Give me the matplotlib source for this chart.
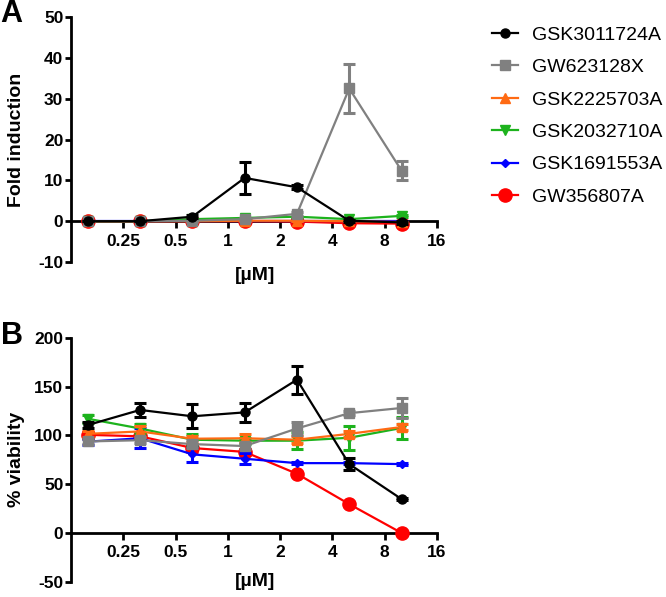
import matplotlib
matplotlib.use('Agg')
import matplotlib.pyplot as plt
from matplotlib.lines import Line2D
import numpy as np

plt.rcParams['font.family'] = ['Liberation Sans', 'DejaVu Sans']
plt.rcParams['axes.unicode_minus'] = False

conc = [0.156, 0.3125, 0.625, 1.25, 2.5, 5, 10]

names = ['GSK3011724A', 'GW623128X', 'GSK2225703A', 'GSK2032710A', 'GSK1691553A', 'GW356807A']
colors = ['#000000', '#808080', '#FF6A13', '#1DB31D', '#0000FF', '#FF0000']
markers = ['o', 's', '^', 'v', 'D', 'o']
msizes = [6.5, 6.5, 7, 6.5, 4.5, 9.5]

# panel A: fold induction
fold = [
    [0, 0, 1.1, 10.6, 8.3, 0.1, -0.3],
    [0, 0, 0.1, 0.5, 1.8, 32.5, 12.4],
    [0, 0, 0, 0.1, 0.1, 0, -0.2],
    [0, 0, 0.5, 0.8, 1.1, 0.5, 1.3],
    [0, 0, 0, 0, 0, 0, 0],
    [0, 0, 0, 0, -0.1, -0.5, -0.6],
]
fold_err = [
    [0, 0, 0.3, 3.9, 0.5, 0.3, 0.3],
    [0, 0, 0.2, 0.3, 0.5, 6.0, 2.3],
    [0, 0, 0, 0, 0, 0, 0],
    [0, 0, 0, 0, 0, 0, 0.3],
    [0, 0, 0, 0, 0, 0, 0],
    [0, 0, 0, 0, 0, 0, 0],
]

# panel B: % viability
viab = [
    [110.5, 126, 119.5, 123.5, 157, 70.5, 34.7],
    [93.7, 95, 91, 89, 107, 122.7, 128],
    [101.5, 104, 96.5, 97, 95.5, 101.5, 108.5],
    [117, 107, 95.5, 94.5, 94.5, 97.5, 107.5],
    [93.5, 97, 80.5, 76, 71.5, 71.5, 70.5],
    [100.5, 99, 87, 83, 60.6, 29.5, 0],
]
viab_err = [
    [3, 7.5, 12.5, 9.5, 14.5, 6, 1],
    [3, 3, 4, 3, 7, 2, 10.5],
    [3, 6, 3, 4, 3.5, 3, 3.5],
    [4, 5, 6, 3, 9, 12.5, 11],
    [3, 10.5, 8, 5.5, 1, 1, 1],
    [3, 2, 4, 3, 1, 1, 1],
]

fig = plt.figure(figsize=(6.66, 5.97), dpi=100)
ax_a = fig.add_axes([0.1066, 0.5611, 0.5495, 0.4104])
ax_b = fig.add_axes([0.1066, 0.0256, 0.5495, 0.4087])

def draw(ax, vals, errs):
    for i in reversed(range(len(names))):
        ax.errorbar(conc, vals[i], yerr=errs[i], color=colors[i], marker=markers[i],
                    ms=msizes[i], lw=1.6, elinewidth=2.2, capsize=4, capthick=2.2,
                    clip_on=False, zorder=3 + (len(names) - i))

def style(ax, ylim, yticks, ylabel, xlab_y):
    ax.set_xscale('log', base=2)
    ax.set_xlim(0.125, 16)
    ax.set_ylim(*ylim)
    ax.set_yticks(yticks)
    ax.set_xticks([0.25, 0.5, 1, 2, 4, 8, 16])
    ax.set_xticklabels(['0.25', '0.5', '1', '2', '4', '8', '16'])
    ax.minorticks_off()
    ax.spines['top'].set_visible(False)
    ax.spines['right'].set_visible(False)
    ax.spines['bottom'].set_position(('data', 0))
    for s in ['left', 'bottom']:
        ax.spines[s].set_linewidth(2)
    ax.tick_params(axis='x', direction='out', length=5, width=2, labelsize=12.5, pad=4)
    ax.tick_params(axis='y', direction='out', length=4, width=2, labelsize=12.5, pad=1.5)
    for lab in ax.get_xticklabels() + ax.get_yticklabels():
        lab.set_fontweight('bold')
    ax.set_ylabel(ylabel, fontsize=14, fontweight='bold')
    ax.yaxis.set_label_coords(-0.126, 0.5)
    ax.set_xlabel('[µM]', fontsize=14, fontweight='bold')
    ax.xaxis.set_label_coords(0.503, xlab_y)

draw(ax_a, fold, fold_err)
style(ax_a, (-10, 50), range(-10, 51, 10), 'Fold induction', -0.02)
draw(ax_b, viab, viab_err)
style(ax_b, (-50, 200), range(-50, 201, 50), '% viability', 0.036)

fig.text(0.0, 0.9765, 'A', fontsize=22, fontweight='bold', va='center', ha='left')
fig.text(0.002, 0.437, 'B', fontsize=22, fontweight='bold', va='center', ha='left')

handles = [Line2D([0], [0], color=colors[i], marker=markers[i], ms=msizes[i], lw=1.6)
           for i in range(len(names))]
fig.legend(handles, names, loc='upper left', bbox_to_anchor=(0.738, 0.956),
           frameon=False, fontsize=14, handlelength=1.34, handletextpad=0.72,
           labelspacing=0.76, borderpad=0, borderaxespad=0)

fig.savefig('out.png', dpi=100)
